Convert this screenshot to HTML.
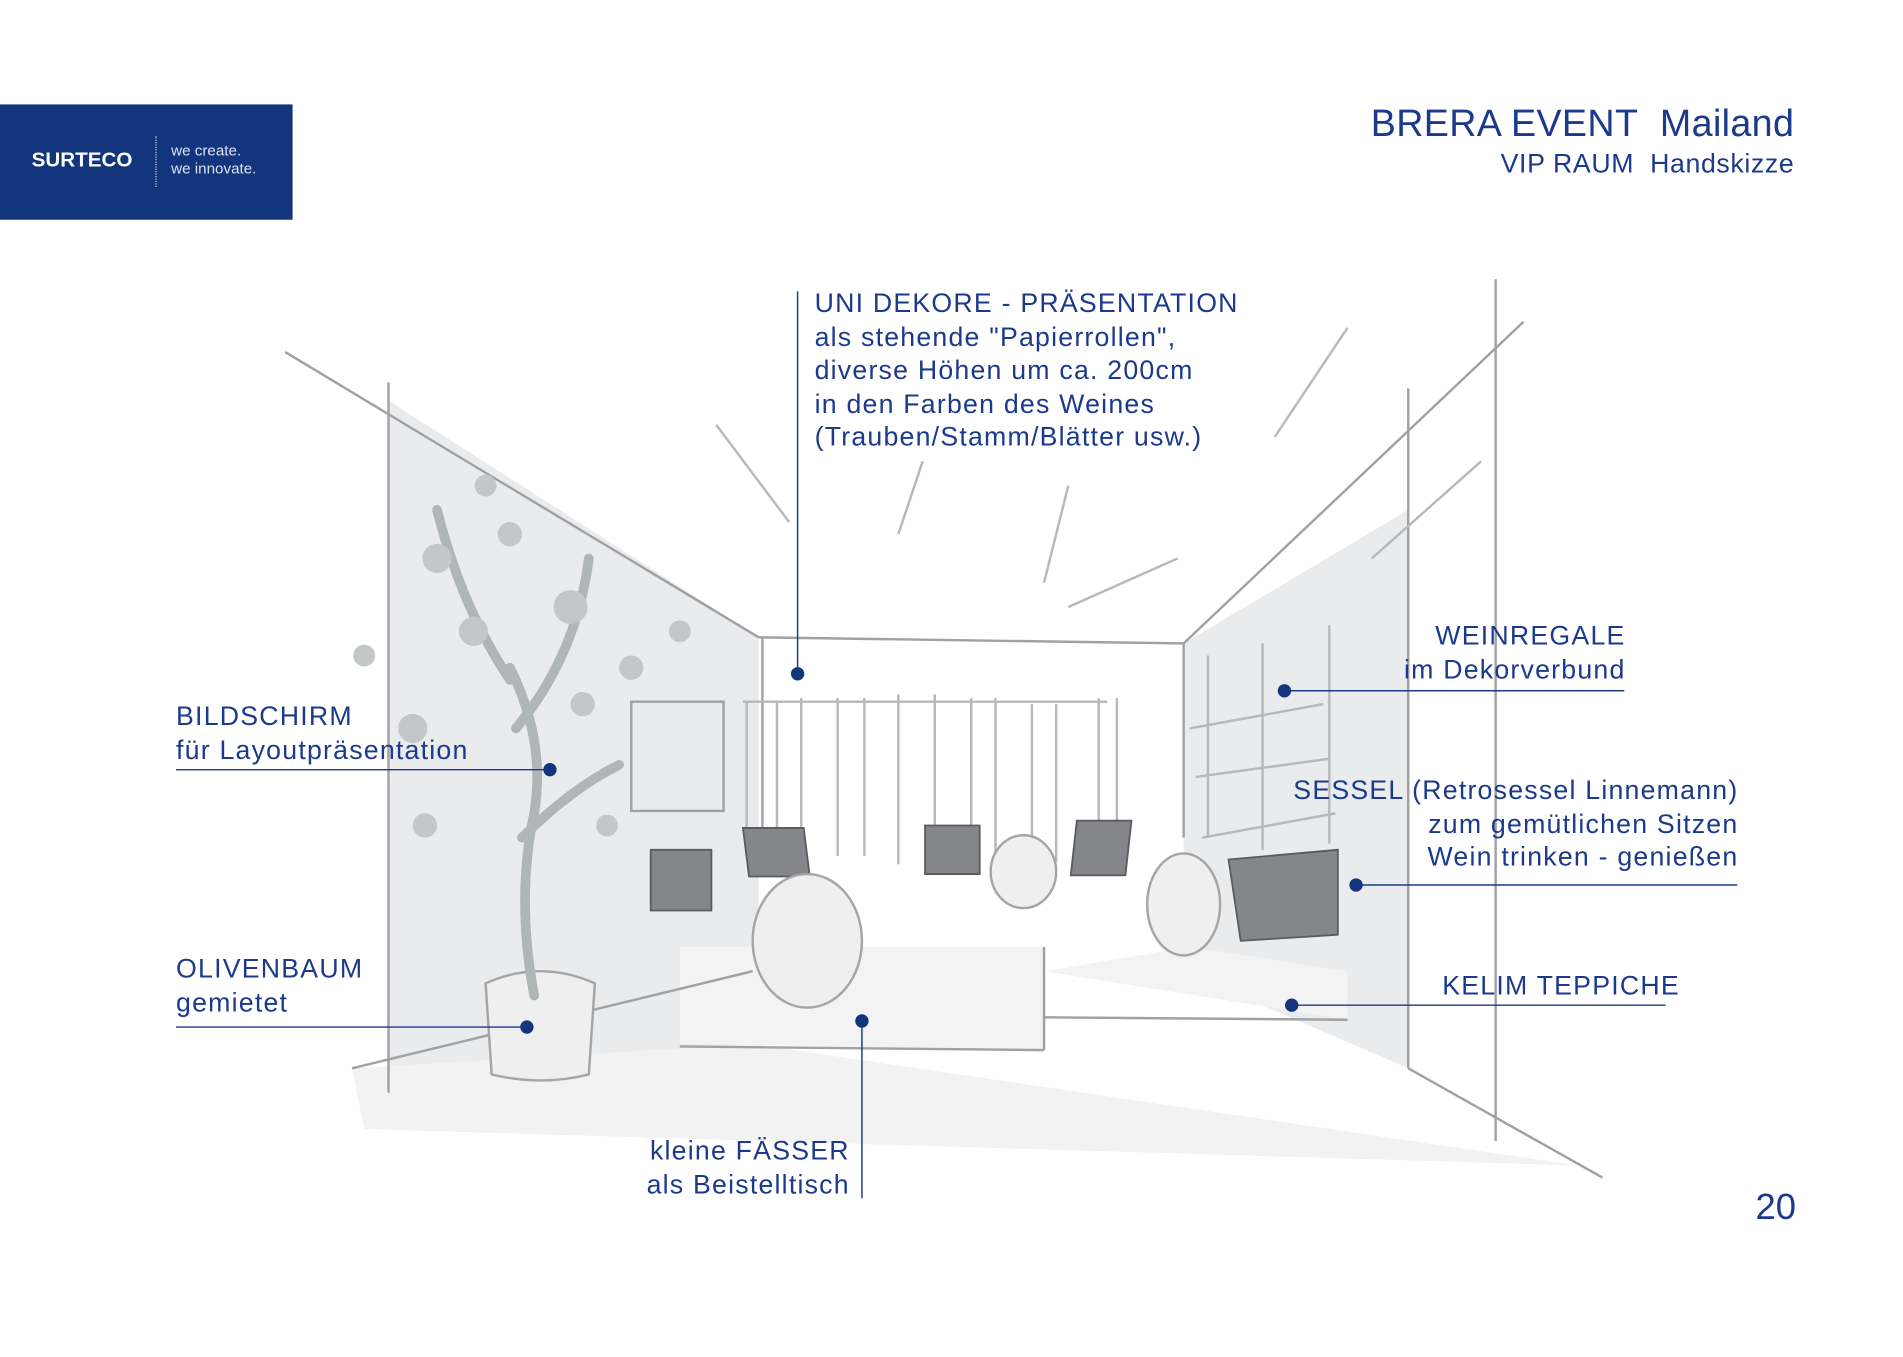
<!DOCTYPE html>
<html><head><meta charset="utf-8"><style>
html,body{margin:0;padding:0;background:#fff;overflow:hidden}
#w{position:absolute;left:0;top:0;width:1568px;height:1118px;transform:scale(1.214);transform-origin:0 0;font-family:"Liberation Sans",sans-serif;color:#1b3a8c}
.t{position:absolute;font-size:22px;line-height:27.5px;white-space:nowrap;letter-spacing:1px}
.r{text-align:right}
svg{position:absolute;left:0;top:0}
</style></head><body><div id="w">
<svg width="1568" height="1118" viewBox="0 0 1568 1118">
<g fill="#eaebec" stroke="none">
<polygon points="320,330 625,525 625,880 320,900"/>
<polygon points="975,530 1160,420 1160,880 975,800"/>
<polygon points="560,860 860,865 860,780 560,780" fill="#f3f3f3"/>
<polygon points="860,800 1110,840 1110,800 980,780" fill="#f3f3f3"/>
<polygon points="290,880 620,860 1300,960 300,930" fill="#f2f2f2"/>
</g>
<g fill="none" stroke="#a0a1a4" stroke-width="2">
<line x1="235" y1="290" x2="625" y2="525"/>
<line x1="625" y1="525" x2="975" y2="530"/>
<line x1="975" y1="530" x2="1255" y2="265"/>
<line x1="1160" y1="320" x2="1160" y2="880"/>
<line x1="1232" y1="230" x2="1232" y2="940"/>
<line x1="320" y1="315" x2="320" y2="900"/>
<line x1="628" y1="525" x2="628" y2="690"/>
<line x1="975" y1="530" x2="975" y2="690"/>
<line x1="560" y1="862" x2="860" y2="865"/>
<line x1="860" y1="780" x2="860" y2="865"/>
<line x1="1110" y1="840" x2="860" y2="838"/>
<line x1="290" y1="880" x2="620" y2="800"/>
<line x1="1160" y1="880" x2="1320" y2="970"/>
<rect x="520" y="578" width="76" height="90"/>
</g>
<g fill="none" stroke="#b7b8ba" stroke-width="2">
<path d="M615 578v120M640 578v120M660 575v120M690 575v130M712 575v130M740 572v140M770 572v140M800 575v130M820 575v130M850 580v130M870 580v130M905 575v120M920 575v120"/>
<path d="M612 578h300M995 540v150M1040 530v170M1095 515v180"/>
<path d="M980 600l110-20M985 640l110-15M990 690l110-20"/>
<path d="M590 350l60 80M760 380l-20 60M880 400l-20 80M880 500l90-40M1110 270l-60 90M1220 380l-90 80"/>
</g>
<g fill="#85868a" stroke="#5a5b5e" stroke-width="1.5">
<path d="M536 700l50 0 0 50 -50 0z"/>
<path d="M612 682l50 0 5 40 -50 0z"/>
<path d="M762 680l45 0 0 40 -45 0z"/>
<path d="M887 676l45 0 -5 45 -45 0z"/>
<path d="M1012 708l90 -8 0 70 -80 5z"/>
</g>
<g fill="#efefef" stroke="#a5a5a5" stroke-width="2">
<ellipse cx="665" cy="775" rx="45" ry="55"/>
<ellipse cx="843" cy="718" rx="27" ry="30"/>
<ellipse cx="975" cy="745" rx="30" ry="42"/>
<path d="M400 810q45 -20 90 0l-5 75q-40 10 -80 0z"/>
</g>
<g stroke="#b0b5b5" stroke-width="8" fill="none" stroke-linecap="round">
<path d="M440 820q-15 -80 0 -150q10 -60 -20 -120M430 690q40 -40 80 -60M420 560q-40 -60 -60 -140M425 600q50 -60 60 -140"/>
</g>
<g fill="#c3c7c7">
<circle cx="360" cy="460" r="12"/><circle cx="420" cy="440" r="10"/><circle cx="470" cy="500" r="14"/><circle cx="390" cy="520" r="12"/><circle cx="520" cy="550" r="10"/><circle cx="340" cy="600" r="12"/><circle cx="480" cy="580" r="10"/><circle cx="350" cy="680" r="10"/><circle cx="500" cy="680" r="9"/><circle cx="400" cy="400" r="9"/><circle cx="560" cy="520" r="9"/><circle cx="300" cy="540" r="9"/>
</g>
<g stroke="#1b3a8c" stroke-width="1.2">
<line x1="657" y1="240" x2="657" y2="555"/>
<line x1="145" y1="634" x2="453" y2="634"/>
<line x1="145" y1="846" x2="434" y2="846"/>
<line x1="710" y1="841" x2="710" y2="987"/>
<line x1="1058" y1="569" x2="1338" y2="569"/>
<line x1="1117" y1="729" x2="1431" y2="729"/>
<line x1="1064" y1="828" x2="1372" y2="828"/>
</g>
<g fill="#13357e">
<circle cx="657" cy="555" r="5.5"/><circle cx="453" cy="634" r="5.5"/><circle cx="434" cy="846" r="5.5"/><circle cx="710" cy="841" r="5.5"/><circle cx="1058" cy="569" r="5.5"/><circle cx="1117" cy="729" r="5.5"/><circle cx="1064" cy="828" r="5.5"/>
</g>
</svg>
<div style="position:absolute;left:0;top:86px;width:241px;height:95px;background:#13357e"></div>
<div style="position:absolute;left:26px;top:122px;color:#fff;font-size:17px;font-weight:bold;letter-spacing:0px">SURTECO</div>
<div style="position:absolute;left:128px;top:112px;height:42px;border-left:1.5px dotted #c9d0e3"></div>
<div style="position:absolute;left:141px;top:117px;color:#dbe1ef;font-size:12.5px;line-height:15px">we create.<br>we innovate.</div>
<div class="t r" style="right:90px;top:84px;font-size:31px;line-height:36px;letter-spacing:0.3px">BRERA EVENT&nbsp; Mailand</div>
<div class="t r" style="right:90px;top:121px;font-size:22px;line-height:27px;letter-spacing:0.5px">VIP RAUM&nbsp; Handskizze</div>
<div class="t" style="left:671px;top:236px">UNI DEKORE - PRÄSENTATION<br>als stehende "Papierrollen",<br>diverse Höhen um ca. 200cm<br>in den Farben des Weines<br>(Trauben/Stamm/Blätter usw.)</div>
<div class="t" style="left:145px;top:576px">BILDSCHIRM<br>für Layoutpräsentation</div>
<div class="t" style="left:145px;top:784px">OLIVENBAUM<br>gemietet</div>
<div class="t r" style="right:868px;top:934px">kleine FÄSSER<br>als Beistelltisch</div>
<div class="t r" style="right:229px;top:510px">WEINREGALE<br>im Dekorverbund</div>
<div class="t r" style="right:136px;top:637px">SESSEL (Retrosessel Linnemann)<br>zum gemütlichen Sitzen<br>Wein trinken - genießen</div>
<div class="t" style="left:1188px;top:798px">KELIM TEPPICHE</div>
<div class="t" style="left:1446px;top:978px;font-size:30px;line-height:34px;letter-spacing:0">20</div>
</div></body></html>
